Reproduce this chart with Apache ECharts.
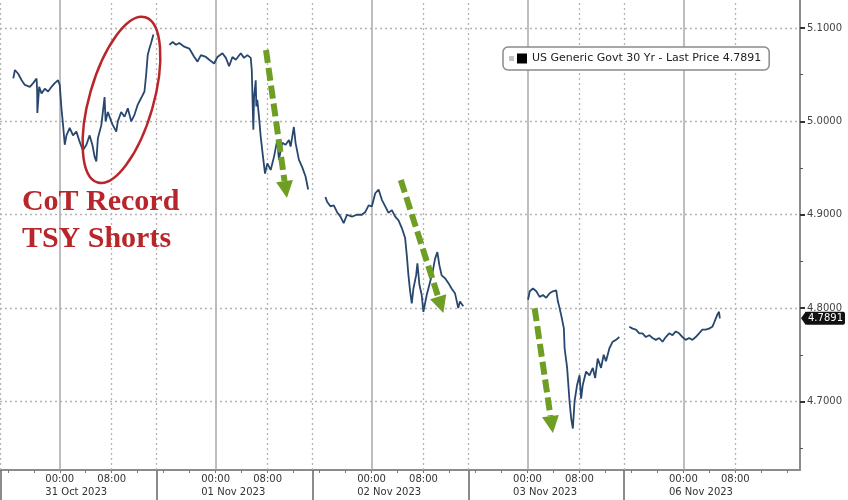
<!DOCTYPE html>
<html><head><meta charset="utf-8">
<script src="https://cdn.jsdelivr.net/npm/echarts@6/dist/echarts.min.js"></script>
<style>html,body{margin:0;padding:0;background:#fff}#c{width:848px;height:500px}</style>
</head><body><div id="c"></div>
<script>
// x values are trading-day hours counted from 31 Oct 2023 00:00 (weekend removed)
const oct31Hours = [-7.16,-6.90,-6.40,-5.87,-5.37,-4.60,-4.10,-3.57,-3.48,-3.45,-3.17,-2.81,-2.30,-1.79,-1.27,-0.77,-0.26,0,0.26,0.51,0.77,1.03,1.53,2.04,2.56,3.07,3.57,4.10,4.60,5.02,5.37,5.63,5.87,6.40,6.90,7.06,7.41,7.93,8.17,8.70,8.94,9.46,9.97,10.48,11.00,11.50,12.01,12.53,13.04,13.30,13.54,13.80,14.06,14.42];
const oct31Yields = [5.046,5.055,5.051,5.044,5.039,5.037,5.041,5.046,5.032,5.009,5.037,5.030,5.035,5.032,5.037,5.041,5.044,5.039,5.014,4.996,4.975,4.985,4.993,4.985,4.989,4.978,4.969,4.975,4.985,4.975,4.962,4.957,4.982,4.996,5.026,5.000,5.010,5.000,4.996,4.989,5.000,5.010,5.005,5.014,5.000,5.007,5.018,5.025,5.032,5.050,5.071,5.078,5.084,5.093];
const nov01Hours = [16.87,17.38,17.90,18.40,19.17,19.94,20.71,21.21,21.73,22.50,23.01,23.77,24.28,25.05,25.57,26.07,26.58,27.10,27.87,28.37,28.88,29.40,29.56,29.80,29.91,30.17,30.26,30.41,30.67,30.93,31.29,31.60,31.95,32.47,32.98,33.48,33.74,34.25,34.77,35.28,35.54,36.04,36.30,36.81,37.32,37.84,38.24];
const nov01Yields = [5.082,5.085,5.082,5.084,5.080,5.078,5.069,5.064,5.071,5.069,5.066,5.062,5.069,5.073,5.068,5.059,5.069,5.066,5.073,5.068,5.071,5.068,5.055,4.991,5.026,5.044,5.016,5.023,5.005,4.984,4.962,4.944,4.955,4.948,4.962,4.980,4.959,4.977,4.975,4.980,4.973,4.994,4.977,4.959,4.951,4.941,4.927];
const nov02Hours = [40.90,41.15,41.67,42.18,42.68,43.21,43.71,44.22,44.98,45.75,46.52,47.04,47.55,48.05,48.57,49.08,49.59,50.11,50.61,51.12,51.64,52.15,52.65,53.17,53.42,53.68,53.94,54.19,54.45,54.86,55.06,55.37,55.72,55.98,56.49,57.01,57.41,57.78,58.13,58.44,58.79,59.31,59.82,60.32,60.84,61.35,61.61,62.12];
const nov02Yields = [4.919,4.914,4.909,4.910,4.903,4.898,4.891,4.900,4.898,4.900,4.900,4.903,4.910,4.909,4.923,4.927,4.916,4.909,4.902,4.905,4.898,4.894,4.886,4.875,4.857,4.835,4.818,4.805,4.821,4.835,4.848,4.825,4.814,4.796,4.814,4.828,4.839,4.853,4.860,4.846,4.835,4.832,4.827,4.821,4.816,4.800,4.807,4.802];
const nov03Hours = [72.09,72.35,72.85,73.36,73.88,74.39,74.89,75.41,75.92,76.43,76.69,76.95,77.30,77.61,77.72,78.11,78.48,78.73,78.99,79.25,79.65,80.02,80.26,80.52,81.03,81.55,82.06,82.42,82.82,83.33,83.74,84.09,84.62,85.12,85.63,86.15];
const nov03Yields = [4.809,4.818,4.821,4.818,4.812,4.814,4.811,4.816,4.818,4.819,4.807,4.800,4.789,4.778,4.757,4.736,4.700,4.682,4.671,4.700,4.718,4.728,4.703,4.718,4.732,4.728,4.736,4.725,4.746,4.736,4.750,4.743,4.757,4.764,4.766,4.769];
const nov06Hours = [87.68,88.19,88.70,89.22,89.72,90.23,90.75,91.26,91.76,92.29,92.79,93.30,93.82,94.33,94.83,95.35,95.86,96.36,96.89,97.39,97.90,98.42,98.93,99.43,99.95,100.46,100.71,100.97,101.23,101.49,101.62];
const nov06Yields = [4.780,4.778,4.777,4.773,4.773,4.769,4.771,4.768,4.766,4.768,4.764,4.769,4.773,4.771,4.775,4.773,4.769,4.766,4.768,4.766,4.769,4.773,4.777,4.777,4.778,4.780,4.784,4.786,4.793,4.796,4.7891];

const lastPrice = 4.7891;
const seriesName = 'US Generic Govt 30 Yr - Last Price 4.7891';

const dayStarts = [0, 24, 48, 72, 96];
const dayNames = ['31 Oct 2023', '01 Nov 2023', '02 Nov 2023', '03 Nov 2023', '06 Nov 2023'];
const morningTicks = [8, 32, 56, 80, 104];
const morningLabel = '08:00';
const midnightLabel = '00:00';
const sessionBreaks = [-9.1, 14.9, 38.9, 62.9, 86.9];
const yTickValues = [4.7, 4.8, 4.9, 5.0, 5.1];
const yMinorTicks = [4.65, 4.75, 4.85, 4.95, 5.05];

const annotationText = 'CoT Record\nTSY Shorts';
// annotation anchors in data space [hours, yield]
const ellipseCenter = [9.5, 5.023];
const arrows = [
  [[31.75, 5.0764], [34.97, 4.918]],
  [[52.5, 4.9372], [59.05, 4.7948]],
  [[73.11, 4.7998], [75.92, 4.6663]]
];
const textAnchor = [-5.83, 4.9330];

const xMin = -9.2, xMax = 113.96, yMin = 4.6266, yMax = 5.13;
const fourHourTicks = [];
for (let t = -8; t <= 112; t += 4) fourHourTicks.push(t);

function seg(h, y) { return h.map((v, i) => [v, y[i]]); }
const lineData = [].concat(
  seg(oct31Hours, oct31Yields), [[15.5, '-']],
  seg(nov01Hours, nov01Yields), [[39.5, '-']],
  seg(nov02Hours, nov02Yields), [[67, '-']],
  seg(nov03Hours, nov03Yields), [[87, '-']],
  seg(nov06Hours, nov06Yields)
);

const FONT = 'DejaVu Sans';
const gridSolid = { type: 'solid', color: '#a9a9a9', width: 1.5 };
const gridDot = { type: [2, 3], color: '#b4b4b4', width: 1.3 };

const markData = []
  .concat(dayStarts.map(v => ({ xAxis: v, lineStyle: gridSolid })))
  .concat(morningTicks.concat(sessionBreaks).map(v => ({ xAxis: v, lineStyle: gridDot })))
  .concat(yTickValues.map(v => ({ yAxis: v, lineStyle: gridDot })));

const iconSvg = '<svg xmlns="http://www.w3.org/2000/svg" width="18" height="11"><rect x="0" y="3" width="5" height="5" fill="#c4c4c4"/><rect x="8" y="0.5" width="10" height="10" fill="#000"/></svg>';
const iconUrl = 'image://data:image/svg+xml;charset=utf-8,' + encodeURIComponent(iconSvg);

const chart = echarts.init(document.getElementById('c'), null, { renderer: 'canvas' });
const baseX = { type: 'value', min: xMin, max: xMax, position: 'bottom', splitLine: { show: false } };
const baseY = { type: 'value', min: yMin, max: yMax, position: 'right', splitLine: { show: false } };

chart.setOption({
  animation: false,
  backgroundColor: '#fff',
  grid: { left: 0, right: 45, top: 0, bottom: 30, containLabel: false },
  legend: {
    data: [seriesName], left: 503, top: 47, padding: [6, 8, 6, 6],
    backgroundColor: '#fff', borderColor: '#8a8a8a', borderWidth: 1.5, borderRadius: 5,
    icon: iconUrl, itemWidth: 18, itemHeight: 11, selectedMode: false,
    textStyle: { fontFamily: FONT, fontSize: 11, color: '#222' }
  },
  xAxis: [
    Object.assign({}, baseX, {
      axisLine: { show: true, onZero: false, lineStyle: { color: '#8c8c8c', width: 2 } },
      axisTick: { show: true, customValues: fourHourTicks, length: 3, lineStyle: { color: '#777', width: 1 } },
      axisLabel: {
        show: true, customValues: dayStarts.concat(morningTicks), margin: 3,
        formatter: function (v) {
          const i = dayStarts.indexOf(v);
          if (i >= 0) return '{t|' + midnightLabel + '}\n{d|' + dayNames[i] + '}';
          return '{t|' + morningLabel + '}';
        },
        rich: {
          t: { fontFamily: FONT, fontSize: 10, lineHeight: 13, color: '#333', align: 'center' },
          d: { fontFamily: FONT, fontSize: 10, lineHeight: 13, color: '#333', align: 'left', width: 28 }
        }
      }
    }),
    Object.assign({}, baseX, {
      axisLine: { show: false, onZero: false },
      axisTick: { show: true, customValues: sessionBreaks, length: 30, lineStyle: { color: '#666', width: 1.5 } },
      axisLabel: { show: false }
    })
  ],
  yAxis: [
    Object.assign({}, baseY, {
      axisLine: { show: true, onZero: false, lineStyle: { color: '#8c8c8c', width: 2 } },
      axisTick: { show: true, customValues: yTickValues, length: 5, lineStyle: { color: '#333', width: 2 } },
      axisLabel: { show: true, customValues: yTickValues, margin: 7, formatter: v => v.toFixed(4), fontFamily: FONT, fontSize: 10, color: '#444' }
    }),
    Object.assign({}, baseY, {
      axisLine: { show: false, onZero: false },
      axisTick: { show: true, customValues: yMinorTicks, length: 3, lineStyle: { color: '#555', width: 1 } },
      axisLabel: { show: false }
    }),
    Object.assign({}, baseY, {
      axisLine: { show: false, onZero: false },
      axisTick: { show: false, customValues: [lastPrice] },
      axisLabel: {
        show: true, customValues: [lastPrice], margin: 5, formatter: v => v.toFixed(4),
        fontFamily: FONT, fontSize: 10, color: '#fff', backgroundColor: '#111',
        padding: [2, 2, 1, 3], borderRadius: 2
      }
    })
  ],
  series: [{
    type: 'line', name: seriesName, data: lineData, xAxisIndex: 0, yAxisIndex: 0,
    showSymbol: false, connectNulls: false, z: 3,
    lineStyle: { color: '#28476f', width: 1.8 }, itemStyle: { color: '#000' },
    markLine: { silent: true, z: 1, symbol: ['none', 'none'], label: { show: false }, animation: false, data: markData }
  }]
});

const green = '#6f9e24';
const red = '#b8262b';
function px(p) { return chart.convertToPixel({ seriesIndex: 0 }, p); }
function arrowShapes(from, to) {
  const p0 = px(from), p1 = px(to);
  const dx = p1[0] - p0[0], dy = p1[1] - p0[1], L = Math.hypot(dx, dy);
  const ux = dx / L, uy = dy / L, headLen = 17, half = 8.5;
  const bx = p1[0] - ux * headLen, by = p1[1] - uy * headLen;
  return [
    { type: 'line', z: 20, shape: { x1: p0[0], y1: p0[1], x2: bx, y2: by }, style: { stroke: green, lineWidth: 6, lineDash: [13, 5] } },
    { type: 'polygon', z: 20, shape: { points: [[p1[0], p1[1]], [bx - uy * half, by + ux * half], [bx + uy * half, by - ux * half]] }, style: { fill: green } }
  ];
}
const ec = px(ellipseCenter);
const ta = px(textAnchor);
const lp = chart.convertToPixel({ yAxisIndex: 0 }, lastPrice);
const rx = chart.convertToPixel({ xAxisIndex: 0 }, xMax);
let graphics = [
  { type: 'ellipse', z: 20, x: ec[0], y: ec[1], rotation: -0.28, shape: { cx: 0, cy: 0, rx: 32, ry: 86 }, style: { stroke: red, lineWidth: 2.5, fill: null } },
  { type: 'text', z: 20, x: ta[0], y: ta[1], style: { text: annotationText, font: 'bold 30px "Liberation Serif"', fill: red, lineHeight: 37 } },
  { type: 'polygon', z: 20, shape: { points: [[rx + 1, lp], [rx + 6, lp - 7], [rx + 6, lp + 7]] }, style: { fill: '#111' } }
];
arrows.forEach(a => { graphics = graphics.concat(arrowShapes(a[0], a[1])); });
chart.setOption({ graphic: graphics });
</script></body></html>
